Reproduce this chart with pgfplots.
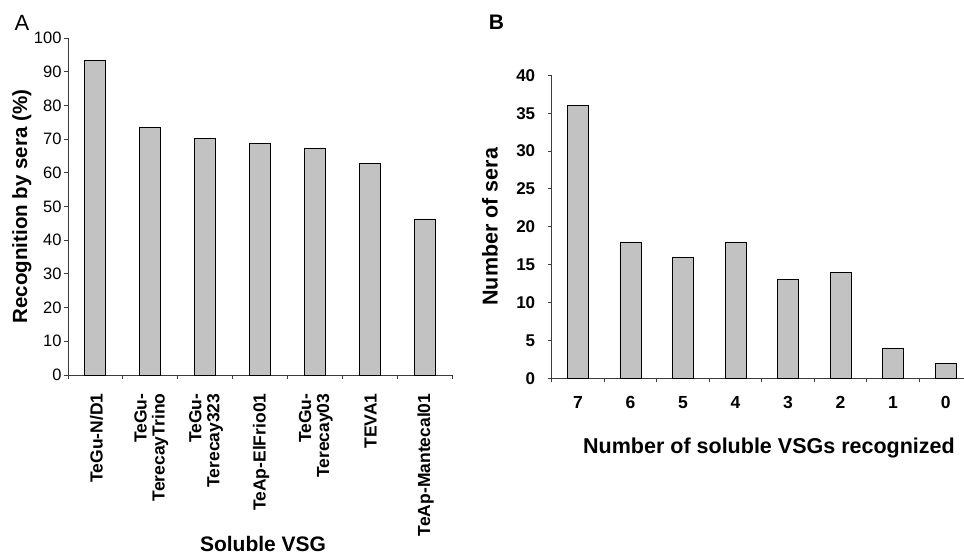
\documentclass[border=0pt]{standalone}
\usepackage{fontspec}
\setmainfont{Liberation Sans}
\usepackage{pgfplots}
\pgfplotsset{compat=1.18}
\definecolor{barfill}{RGB}{194,194,194}
\definecolor{axcol}{RGB}{60,60,60}
\pgfplotsset{
  mybars/.style={
    scale only axis,
    axis x line*=bottom, axis y line*=left,
    axis line style={-, axcol, line width=0.9pt},
    tick align=outside,
    major tick length=4pt, minor tick length=4pt,
    major x tick style={draw=none},
    minor x tick style={axcol, line width=0.9pt},
    major y tick style={axcol, line width=0.9pt},
    ybar, bar width=21pt,
    /pgf/number format/assume math mode=true,
    ymin=0,
  }
}
\begin{document}
\begin{tikzpicture}[x=1pt,y=1pt]
\path[use as bounding box] (0,0) rectangle (964,555);
\node[font=\fontsize{22}{22}\selectfont] at (22,532.5) {A};
\node[font=\bfseries\fontsize{21}{21}\selectfont] at (496.5,532.5) {B};
% Panel A
\begin{axis}[mybars,
  at={(68pt,180pt)}, anchor=south west,
  width=384pt, height=337pt,
  xmin=-0.5, xmax=6.5, ymax=100,
  ytick={0,10,...,100},
  xtick={0,...,6},
  minor xtick={-0.5,0.5,...,6.5},
  xticklabels={{TeGu-N/D1},{TeGu-\\TerecayTrino},{TeGu-\\Terecay323},{TeAp-ElFrio01},{TeGu-\\Terecay03},{TEVA1},{TeAp-Mantecal01}},
  xticklabel style={rotate=90, anchor=east, align=right, font=\bfseries\fontsize{17.5}{18}\selectfont, xshift=-11pt, yshift=-1pt},
  yticklabel style={font=\fontsize{16.5}{17}\selectfont, xshift=1pt},
  xlabel={Soluble VSG},
  ylabel={Recognition by sera (\%)},
  xlabel style={font=\bfseries\fontsize{21}{21}\selectfont, at={(axis description cs:0.508,-0.50)}, anchor=center},
  ylabel style={font=\bfseries\fontsize{20.5}{20.5}\selectfont, at={(axis description cs:-0.12,0.5)}, anchor=center, rotate=0},
]
\addplot[fill=barfill, draw=black, line width=0.9pt] coordinates {
(0,93.3) (1,73.5) (2,70.2) (3,68.8) (4,67.2) (5,62.8) (6,46.3)};
\end{axis}
% Panel B
\begin{axis}[mybars,
  at={(551.7pt,176.7pt)}, anchor=south west,
  width=412.3pt, height=303pt,
  xmin=-0.5, xmax=7.35, ymax=40,
  ytick={0,5,...,40},
  xtick={0,...,7},
  minor xtick={-0.5,0.5,...,6.5},
  xticklabels={7,6,5,4,3,2,1,0},
  xticklabel style={font=\bfseries\fontsize{17.5}{17.5}\selectfont, text height=12.5pt, text depth=0pt, yshift=-10pt},
  yticklabel style={font=\bfseries\fontsize{17}{17}\selectfont, xshift=-9pt},
  xlabel={Number of soluble VSGs recognized},
  ylabel={Number of sera},
  xlabel style={font=\bfseries\fontsize{21.5}{21.5}\selectfont, at={(axis description cs:0.527,-0.23)}, anchor=center},
  ylabel style={font=\bfseries\fontsize{21.5}{21.5}\selectfont, at={(axis description cs:-0.15,0.50)}, anchor=center},
]
\addplot[fill=barfill, draw=black, line width=0.9pt] coordinates {
(0,36) (1,18) (2,16) (3,18) (4,13) (5,14) (6,4) (7,2)};
\end{axis}
\end{tikzpicture}
\end{document}
